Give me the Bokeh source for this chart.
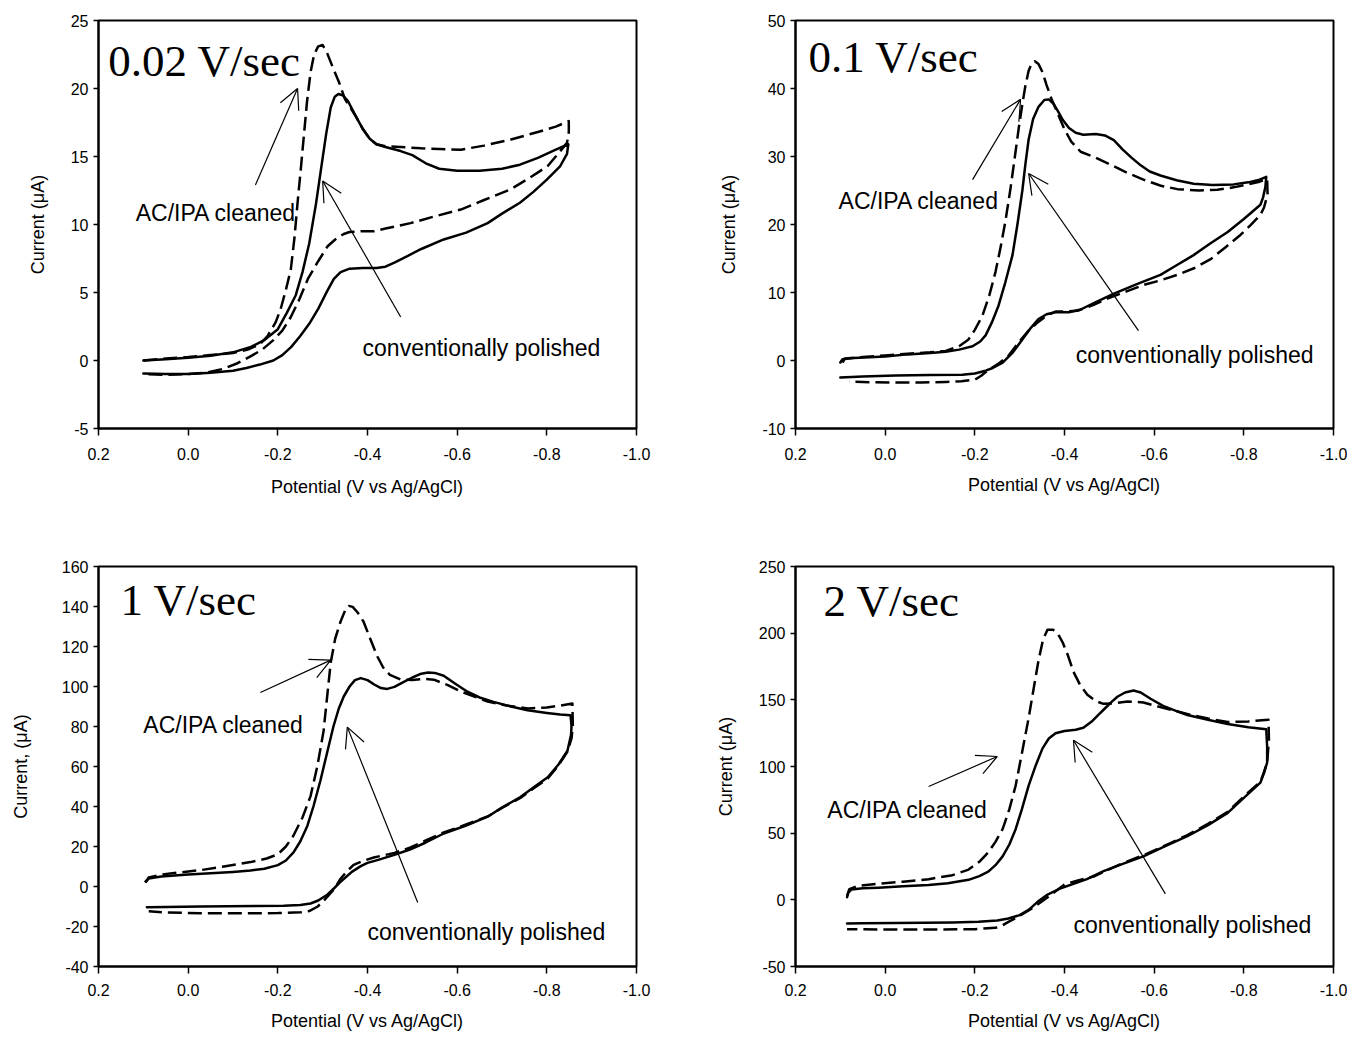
from bokeh.plotting import figure
from bokeh.layouts import column, row
from bokeh.models import Range1d, FixedTicker, PrintfTickFormatter, Label, Arrow, OpenHead
from bokeh.embed import file_html
from bokeh.resources import INLINE

# ---------------- data ----------------
X_TICKS = [0.2, 0.0, -0.2, -0.4, -0.6, -0.8, -1.0]

# Panel 1: 0.02 V/sec
p1_solid = [
    (0.10, 0.0), (0.05, 0.1), (0.0, 0.2), (-0.05, 0.35), (-0.10, 0.6), (-0.14, 1.0), (-0.17, 1.5),
    (-0.20, 2.3), (-0.22, 3.5), (-0.24, 4.8), (-0.255, 6.5), (-0.27, 8.6), (-0.285, 11.5), (-0.296, 14.0),
    (-0.308, 16.7), (-0.318, 18.6), (-0.327, 19.4), (-0.335, 19.6), (-0.345, 19.5), (-0.356, 19.1),
    (-0.375, 17.9), (-0.39, 17.0), (-0.405, 16.3), (-0.42, 15.9), (-0.44, 15.7), (-0.474, 15.4),
    (-0.50, 15.1), (-0.53, 14.5), (-0.56, 14.1), (-0.60, 13.95), (-0.65, 13.95), (-0.70, 14.1),
    (-0.74, 14.4), (-0.78, 14.9), (-0.82, 15.5), (-0.848, 15.9),
    (-0.845, 15.2), (-0.83, 14.3), (-0.80, 13.3), (-0.77, 12.4), (-0.74, 11.6), (-0.70, 10.8),
    (-0.668, 10.1), (-0.62, 9.4), (-0.57, 8.9), (-0.52, 8.2), (-0.49, 7.7), (-0.46, 7.2), (-0.44, 6.9),
    (-0.42, 6.8), (-0.39, 6.8), (-0.36, 6.75), (-0.34, 6.5), (-0.325, 6.0), (-0.31, 5.1), (-0.29, 3.8),
    (-0.27, 2.7), (-0.25, 1.8), (-0.23, 1.0), (-0.21, 0.4), (-0.19, 0.0), (-0.16, -0.3), (-0.13, -0.55),
    (-0.10, -0.75), (-0.05, -0.9), (0.0, -1.0), (0.05, -1.0), (0.10, -0.95),
]
p1_dash = [
    (0.10, 0.0), (0.05, 0.15), (0.0, 0.25), (-0.05, 0.4), (-0.10, 0.55), (-0.133, 0.8), (-0.16, 1.2),
    (-0.177, 1.8), (-0.195, 2.8), (-0.206, 3.75), (-0.218, 5.2), (-0.229, 6.7), (-0.237, 9.0),
    (-0.244, 11.6), (-0.251, 14.0), (-0.258, 16.5), (-0.265, 19.0), (-0.273, 21.2), (-0.281, 22.5),
    (-0.29, 23.1), (-0.30, 23.2), (-0.31, 22.6), (-0.322, 21.6), (-0.336, 20.5), (-0.35, 19.2),
    (-0.375, 17.9), (-0.39, 17.0), (-0.405, 16.3), (-0.42, 15.9), (-0.44, 15.75), (-0.474, 15.7),
    (-0.52, 15.6), (-0.56, 15.55), (-0.608, 15.5), (-0.66, 15.8), (-0.72, 16.25), (-0.78, 16.8),
    (-0.82, 17.2), (-0.849, 17.6),
    (-0.849, 16.8), (-0.845, 16.0), (-0.825, 15.2), (-0.802, 14.3), (-0.76, 13.4), (-0.72, 12.6),
    (-0.66, 11.8), (-0.608, 11.1), (-0.55, 10.6), (-0.496, 10.1), (-0.44, 9.7), (-0.414, 9.5),
    (-0.385, 9.5), (-0.36, 9.45), (-0.347, 9.3), (-0.328, 8.9), (-0.311, 8.4), (-0.29, 7.3),
    (-0.267, 6.0), (-0.248, 4.5), (-0.229, 3.2), (-0.21, 2.2), (-0.19, 1.5), (-0.165, 0.8),
    (-0.139, 0.3), (-0.11, -0.2), (-0.08, -0.6), (-0.04, -0.9), (0.0, -1.0), (0.05, -1.05), (0.10, -1.0),
]

# Panel 2: 0.1 V/sec
p2_solid = [
    (0.10, -0.3), (0.095, 0.2), (0.07, 0.35), (0.0, 0.6), (-0.05, 0.9), (-0.10, 1.1), (-0.135, 1.3),
    (-0.165, 1.6), (-0.195, 2.1), (-0.212, 2.8), (-0.224, 3.7), (-0.238, 5.6), (-0.253, 8.1),
    (-0.268, 11.5), (-0.284, 15.5), (-0.295, 20.0), (-0.306, 25.0), (-0.313, 29.0), (-0.32, 32.5),
    (-0.33, 35.5), (-0.342, 37.3), (-0.355, 38.3), (-0.365, 38.4), (-0.375, 37.8), (-0.386, 36.6),
    (-0.396, 35.4), (-0.41, 34.2), (-0.425, 33.5), (-0.442, 33.2), (-0.47, 33.3), (-0.49, 33.1),
    (-0.51, 32.4), (-0.53, 31.0), (-0.55, 29.8), (-0.57, 28.7), (-0.59, 27.8), (-0.614, 27.2),
    (-0.65, 26.5), (-0.688, 26.0), (-0.73, 25.8), (-0.777, 25.9), (-0.81, 26.2), (-0.835, 26.6),
    (-0.85, 27.0),
    (-0.848, 25.5), (-0.843, 24.0), (-0.837, 22.9), (-0.80, 20.8), (-0.764, 18.9), (-0.725, 17.2),
    (-0.688, 15.5), (-0.65, 14.0), (-0.614, 12.6), (-0.56, 11.2), (-0.509, 9.8), (-0.47, 8.6),
    (-0.436, 7.5), (-0.41, 7.1), (-0.38, 7.1), (-0.36, 6.8), (-0.342, 6.1), (-0.325, 4.8),
    (-0.306, 3.1), (-0.285, 1.2), (-0.262, -0.3), (-0.24, -1.1), (-0.224, -1.5), (-0.20, -1.9),
    (-0.172, -2.1), (-0.10, -2.15), (-0.023, -2.2), (0.05, -2.35), (0.10, -2.5),
]
p2_dash = [
    (0.095, -0.3), (0.09, 0.3), (0.05, 0.5), (0.0, 0.75), (-0.05, 1.0), (-0.10, 1.2), (-0.135, 1.4),
    (-0.165, 2.1), (-0.186, 3.1), (-0.20, 4.5), (-0.217, 6.6), (-0.232, 9.5), (-0.246, 13.0),
    (-0.257, 16.5), (-0.268, 20.4), (-0.28, 25.5), (-0.29, 30.3), (-0.298, 34.2), (-0.306, 37.7),
    (-0.313, 40.5), (-0.32, 42.6), (-0.327, 43.7), (-0.334, 44.0), (-0.342, 43.6), (-0.351, 42.4),
    (-0.36, 40.5), (-0.372, 38.3), (-0.387, 36.0), (-0.40, 34.0), (-0.415, 32.2), (-0.436, 30.7),
    (-0.47, 29.8), (-0.503, 28.8), (-0.54, 27.6), (-0.576, 26.6), (-0.615, 25.7), (-0.652, 25.2),
    (-0.70, 25.0), (-0.741, 25.1), (-0.78, 25.5), (-0.808, 25.9), (-0.835, 26.3), (-0.852, 26.7),
    (-0.853, 24.4), (-0.845, 22.5), (-0.837, 21.4), (-0.815, 19.9), (-0.793, 18.5), (-0.76, 16.7),
    (-0.726, 14.9), (-0.69, 13.6), (-0.652, 12.6), (-0.615, 11.8), (-0.576, 11.1), (-0.54, 10.2),
    (-0.503, 9.3), (-0.465, 8.2), (-0.429, 7.3), (-0.40, 7.2), (-0.38, 7.2), (-0.36, 6.6),
    (-0.34, 5.6), (-0.32, 4.4), (-0.297, 2.6), (-0.275, 0.7), (-0.252, -0.5), (-0.23, -1.4),
    (-0.215, -2.2), (-0.201, -2.8), (-0.17, -3.05), (-0.135, -3.15), (-0.08, -3.25), (-0.023, -3.25),
    (0.03, -3.2), (0.08, -3.1),
]

# Panel 3: 1 V/sec
p3_solid = [
    (0.095, 2.5), (0.088, 4.0), (0.06, 5.0), (0.0, 6.0), (-0.05, 6.6), (-0.10, 7.3), (-0.139, 8.0),
    (-0.17, 8.9), (-0.20, 10.7), (-0.218, 13.0), (-0.235, 17.1), (-0.25, 22.5), (-0.266, 30.4),
    (-0.28, 40.5), (-0.295, 53.0), (-0.31, 67.0), (-0.324, 80.0), (-0.336, 89.0), (-0.347, 95.0),
    (-0.36, 100.0), (-0.372, 103.2), (-0.385, 104.2), (-0.40, 103.2), (-0.415, 101.0), (-0.43, 99.2),
    (-0.444, 98.8), (-0.46, 99.8), (-0.48, 102.2), (-0.50, 104.5), (-0.52, 106.4), (-0.535, 107.0),
    (-0.55, 106.8), (-0.57, 105.4), (-0.595, 101.5), (-0.623, 97.4), (-0.65, 94.5), (-0.681, 92.3),
    (-0.72, 90.0), (-0.757, 88.1), (-0.80, 86.8), (-0.83, 86.0), (-0.853, 85.6),
    (-0.855, 80.0), (-0.854, 75.8), (-0.846, 67.9), (-0.826, 61.0), (-0.802, 54.6), (-0.77, 49.5),
    (-0.741, 44.7), (-0.70, 39.5), (-0.668, 34.9), (-0.62, 30.5), (-0.57, 26.5), (-0.53, 22.0),
    (-0.496, 18.6), (-0.46, 15.8), (-0.422, 13.2), (-0.40, 11.8), (-0.385, 10.2), (-0.365, 7.3),
    (-0.34, 2.4), (-0.325, -1.0), (-0.311, -4.0), (-0.29, -7.0), (-0.273, -8.5), (-0.25, -9.2),
    (-0.213, -9.6), (-0.15, -9.8), (-0.028, -10.0), (0.05, -10.2), (0.092, -10.4),
]
p3_dash = [
    (0.095, 2.0), (0.088, 4.5), (0.06, 6.0), (0.0, 7.5), (-0.028, 8.2), (-0.08, 10.0), (-0.139, 12.2),
    (-0.175, 14.0), (-0.20, 16.1), (-0.218, 20.0), (-0.235, 25.5), (-0.255, 34.5), (-0.273, 45.2),
    (-0.288, 60.0), (-0.302, 77.7), (-0.31, 95.0), (-0.318, 112.0), (-0.328, 124.0), (-0.34, 132.5),
    (-0.35, 138.0), (-0.358, 140.3), (-0.367, 139.8), (-0.378, 137.0), (-0.391, 132.5),
    (-0.405, 124.5), (-0.422, 115.0), (-0.435, 109.5), (-0.45, 105.8), (-0.474, 103.5),
    (-0.50, 103.2), (-0.525, 103.8), (-0.548, 103.4), (-0.578, 100.8), (-0.608, 97.5),
    (-0.64, 94.8), (-0.668, 92.5), (-0.71, 90.5), (-0.757, 89.0), (-0.80, 89.5), (-0.831, 90.5),
    (-0.857, 91.5),
    (-0.858, 80.0), (-0.855, 74.0), (-0.846, 67.5), (-0.826, 60.5), (-0.802, 54.0), (-0.77, 49.0),
    (-0.741, 44.3), (-0.70, 39.3), (-0.668, 35.0), (-0.62, 31.0), (-0.57, 27.0), (-0.53, 23.0),
    (-0.496, 19.5), (-0.46, 16.8), (-0.414, 14.5), (-0.39, 12.8), (-0.369, 10.8), (-0.355, 7.8),
    (-0.34, 3.9), (-0.325, -1.5), (-0.305, -6.5), (-0.289, -10.0), (-0.27, -12.3), (-0.251, -12.9),
    (-0.20, -13.3), (-0.139, -13.4), (-0.028, -13.4), (0.05, -13.0), (0.088, -12.4),
]

# Panel 4: 2 V/sec
p4_solid = [
    (0.085, 2.0), (0.082, 5.5), (0.075, 7.8), (0.05, 8.6), (0.015, 9.1), (-0.04, 10.1), (-0.097, 11.2),
    (-0.14, 12.5), (-0.186, 15.0), (-0.21, 17.8), (-0.23, 21.2), (-0.246, 26.0), (-0.262, 32.6),
    (-0.277, 41.5), (-0.291, 53.0), (-0.305, 68.0), (-0.32, 85.6), (-0.336, 101.0), (-0.351, 113.6),
    (-0.365, 121.0), (-0.38, 125.0), (-0.40, 126.6), (-0.425, 127.6), (-0.442, 129.0), (-0.46, 133.5),
    (-0.475, 138.5), (-0.49, 143.5), (-0.505, 148.5), (-0.518, 152.3), (-0.535, 155.5),
    (-0.554, 157.0), (-0.57, 155.5), (-0.592, 150.8), (-0.62, 145.5), (-0.65, 141.5),
    (-0.674, 138.6), (-0.72, 135.0), (-0.764, 131.8), (-0.81, 129.5), (-0.85, 128.0),
    (-0.852, 115.0), (-0.852, 103.0), (-0.845, 95.0), (-0.837, 87.9), (-0.80, 76.5), (-0.764, 65.2),
    (-0.72, 56.0), (-0.674, 47.7), (-0.62, 39.5), (-0.576, 32.6), (-0.53, 27.0), (-0.487, 21.5),
    (-0.45, 15.5), (-0.42, 12.0), (-0.39, 8.5), (-0.36, 3.5), (-0.34, -1.5), (-0.32, -7.5),
    (-0.30, -11.5), (-0.275, -14.0), (-0.25, -15.5), (-0.208, -16.5), (-0.15, -17.0),
    (-0.023, -17.3), (0.05, -17.6), (0.085, -17.8),
]
p4_dash = [
    (0.085, 3.0), (0.08, 8.0), (0.06, 10.5), (0.015, 12.0), (-0.04, 13.6), (-0.097, 15.5),
    (-0.15, 18.5), (-0.186, 22.7), (-0.21, 28.5), (-0.23, 35.6), (-0.246, 43.5), (-0.262, 53.0),
    (-0.277, 68.0), (-0.291, 85.6), (-0.305, 110.0), (-0.32, 136.4), (-0.332, 160.0),
    (-0.342, 179.5), (-0.352, 195.0), (-0.362, 202.5), (-0.375, 202.5), (-0.386, 199.0),
    (-0.396, 193.0), (-0.408, 183.0), (-0.42, 171.0), (-0.435, 161.0), (-0.451, 153.8),
    (-0.47, 149.0), (-0.487, 147.0), (-0.51, 147.3), (-0.541, 148.8), (-0.576, 148.0),
    (-0.62, 144.0), (-0.674, 139.4), (-0.72, 136.0), (-0.764, 133.3), (-0.81, 133.8), (-0.855, 135.0),
    (-0.856, 120.0), (-0.852, 103.0), (-0.845, 96.0), (-0.837, 88.5), (-0.80, 77.5), (-0.764, 66.0),
    (-0.72, 57.0), (-0.674, 48.5), (-0.62, 40.0), (-0.576, 33.5), (-0.53, 27.5), (-0.487, 21.0),
    (-0.465, 17.5), (-0.43, 14.5), (-0.40, 11.5), (-0.364, 2.3), (-0.34, -3.5), (-0.32, -8.0),
    (-0.295, -13.0), (-0.275, -16.5), (-0.26, -19.5), (-0.246, -21.0), (-0.20, -22.0),
    (-0.10, -22.3), (0.0, -22.3), (0.085, -22.0),
]

RATES = ["0.02 V/sec", "0.1 V/sec", "1 V/sec", "2 V/sec"]
Y_TICKS = [
    [-5, 0, 5, 10, 15, 20, 25],
    [-10, 0, 10, 20, 30, 40, 50],
    [-40, -20, 0, 20, 40, 60, 80, 100, 120, 140, 160],
    [-50, 0, 50, 100, 150, 200, 250],
]
Y_TITLES = ["Current (\u03bcA)", "Current (\u03bcA)", "Current, (\u03bcA)", "Current (\u03bcA)"]
X_TITLE = "Potential (V vs Ag/AgCl)"
LABEL_CLEANED = "AC/IPA cleaned"
LABEL_POLISHED = "conventionally polished"

# annotation placement (data coordinates)
RATE_POS = [(0.178, 22.0), (0.171, 44.7), (0.151, 143.3), (0.1375, 224.3)]
CLEANED_POS = [(0.117, 10.85), (0.104, 23.4), (0.10, 80.7), (0.129, 67.4)]
POLISHED_POS = [(-0.389, 0.9), (-0.425, 0.85), (-0.40, -22.5), (-0.42, -18.9)]
CLEANED_ARROW = [(-0.15, 12.9, -0.244, 20.0), (-0.195, 26.6, -0.302, 38.4),
                 (-0.161, 97.0, -0.318, 113.2), (-0.097, 85.0, -0.25, 107.5)]
POLISHED_ARROW = [(-0.474, 3.2, -0.30, 13.2), (-0.565, 4.4, -0.32, 27.5),
                  (-0.512, -8.0, -0.355, 79.7), (-0.625, 4.5, -0.42, 119.7)]

CURVES = [(p1_solid, p1_dash), (p2_solid, p2_dash), (p3_solid, p3_dash), (p4_solid, p4_dash)]

# layout geometry per panel: width, height, borders (l, r, t, b), x-label standoffs, y-title standoff
GEOM = [
    dict(w=690, h=548, l=98, r=54, t=20, b=120, s1=12, s2=14, ys=20),
    dict(w=657, h=548, l=105, r=14, t=20, b=120, s1=12, s2=12, ys=20),
    dict(w=690, h=490, l=98, r=54, t=18, b=72, s1=10, s2=12, ys=28),
    dict(w=657, h=490, l=105, r=14, t=18, b=72, s1=10, s2=12, ys=20),
]

SANS = "Liberation Sans"
SERIF = "Liberation Serif"


def make_panel(i):
    g = GEOM[i]
    yt = Y_TICKS[i]
    p = figure(width=g["w"], height=g["h"], output_backend="svg", toolbar_location=None, tools="",
               x_range=Range1d(0.2, -1.0), y_range=Range1d(yt[0], yt[-1]),
               min_border_left=g["l"], min_border_right=g["r"],
               min_border_top=g["t"], min_border_bottom=g["b"])
    p.background_fill_color = "white"
    p.border_fill_color = "white"
    p.xgrid.visible = False
    p.ygrid.visible = False
    p.outline_line_color = "black"
    p.outline_line_width = 2
    p.outline_line_alpha = 1.0

    p.xaxis.ticker = FixedTicker(ticks=X_TICKS)
    p.xaxis.formatter = PrintfTickFormatter(format="%.1f")
    p.yaxis.ticker = FixedTicker(ticks=yt)
    p.yaxis.formatter = PrintfTickFormatter(format="%d")
    for ax in (p.xaxis, p.yaxis):
        ax.axis_line_width = 2
        ax.axis_line_color = "black"
        ax.major_tick_line_width = 1.5
        ax.major_tick_line_color = "black"
        ax.major_tick_in = 0
        ax.minor_tick_line_color = None
        ax.major_label_text_font = SANS
        ax.major_label_text_font_size = "16px"
        ax.major_label_text_color = "black"
        ax.axis_label_text_font = SANS
        ax.axis_label_text_font_style = "normal"
        ax.axis_label_text_font_size = "18px"
        ax.axis_label_text_color = "black"
    p.xaxis.major_tick_out = 7
    p.yaxis.major_tick_out = 5
    p.xaxis.major_label_standoff = g["s1"]
    p.xaxis.axis_label_standoff = g["s2"]
    p.yaxis.major_label_standoff = 5
    p.yaxis.axis_label_standoff = g["ys"]
    p.xaxis.axis_label = X_TITLE
    p.yaxis.axis_label = Y_TITLES[i]

    solid, dash = CURVES[i]
    p.line([a for a, b in solid], [b for a, b in solid], line_color="black", line_width=2.5,
           line_join="round", line_cap="round")
    p.line([a for a, b in dash], [b for a, b in dash], line_color="black", line_width=2.5,
           line_dash="14 6", line_join="round")

    rx, ry = RATE_POS[i]
    p.add_layout(Label(x=rx, y=ry, text=RATES[i], text_font=SERIF, text_font_size="45px",
                       text_color="black", text_align="left", text_baseline="alphabetic"))
    cx, cy = CLEANED_POS[i]
    p.add_layout(Label(x=cx, y=cy, text=LABEL_CLEANED, text_font=SANS, text_font_size="23px",
                       text_color="black", text_align="left", text_baseline="alphabetic"))
    px_, py_ = POLISHED_POS[i]
    p.add_layout(Label(x=px_, y=py_, text=LABEL_POLISHED, text_font=SANS, text_font_size="23px",
                       text_color="black", text_align="left", text_baseline="alphabetic"))
    for (x0, y0, x1, y1) in (CLEANED_ARROW[i], POLISHED_ARROW[i]):
        p.add_layout(Arrow(end=OpenHead(size=20, line_width=1.2, line_color="black"),
                           x_start=x0, y_start=y0, x_end=x1, y_end=y1,
                           line_width=1.2, line_color="black"))
    return p


panels = [make_panel(i) for i in range(4)]
layout = column(row(panels[0], panels[1]), row(panels[2], panels[3]))

open("out.html", "w").write(file_html(layout, INLINE))
